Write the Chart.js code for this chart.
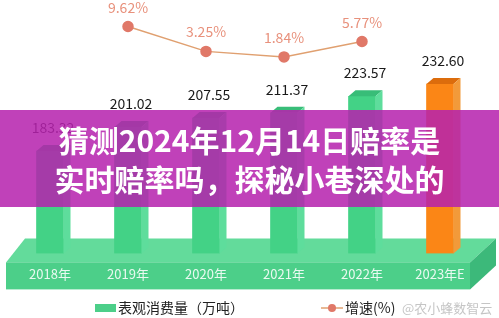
<!DOCTYPE html>
<html>
<head>
<meta charset="utf-8">
<script src="https://cdn.jsdelivr.net/npm/chart.js@4.4.1/dist/chart.umd.min.js"></script>
<style>
  html, body { margin: 0; padding: 0; background: #fff; }
  #wrap { position: relative; width: 499px; height: 318px; overflow: hidden; }
  #banner {
    position: absolute; left: 0; top: 110px; width: 499px; height: 97px;
    background: rgba(182, 34, 174, 0.86);
    color: #fff; font-family: "Noto Sans CJK SC", sans-serif; font-weight: bold;
    font-size: 30px; line-height: 39px; text-align: center;
    padding-top: 10px; box-sizing: border-box; letter-spacing: 0px;
  }
</style>
</head>
<body>
<div id="wrap">
  <canvas id="myChart" width="499" height="318"></canvas>
  <div id="banner">猜测2024年12月14日赔率是<br>实时赔率吗，探秘小巷深处的</div>
</div>
<script>
var years = ["2018年", "2019年", "2020年", "2021年", "2022年", "2023年E"];
var consumption = [183.32, 201.02, 207.55, 211.37, 223.57, 232.60];
var growth = [null, 9.62, 3.25, 1.84, 5.77, null];
var consumptionLabel = "表观消费量（万吨）";
var growthLabel = "增速(%)";
var watermark = "@农小蜂数智云";

var font = '"Noto Sans CJK SC", "Noto Sans", sans-serif';

// colours per bar: green, last one orange
var frontColors = consumption.map(function (v, i) { return i == consumption.length - 1 ? '#fb8616' : '#43d286'; });
var topColors = consumption.map(function (v, i) { return i == consumption.length - 1 ? '#dc6c0c' : '#38bd78'; });
var sideColors = consumption.map(function (v, i) { return i == consumption.length - 1 ? '#f29a3a' : '#5edd9c'; });

var depthX = 7, depthY = 6;
var yMin = 108;

const stagePlugin = {
    id: 'stage',
    beforeDraw(chart) {
        // the green platform under the bars, drawn before the axis labels
        const ctx = chart.ctx;
        const a = chart.chartArea;
        const l = a.left - 5, r = a.right - 9;
        const yTop = a.bottom + 9, yBot = a.bottom + 36, yBack = a.bottom - 15;
        const dx = 19;
        ctx.save();
        ctx.fillStyle = '#63db9b';
        ctx.beginPath();
        ctx.moveTo(l, yTop); ctx.lineTo(r, yTop); ctx.lineTo(r + dx + 7, yBack); ctx.lineTo(l + dx, yBack);
        ctx.closePath(); ctx.fill();
        ctx.fillStyle = '#4ccf89';
        ctx.fillRect(l, yTop, r - l, yBot - yTop);
        ctx.fillStyle = '#3cb97a';
        ctx.beginPath();
        ctx.moveTo(r, yTop); ctx.lineTo(r + dx + 7, yBack); ctx.lineTo(r + dx + 7, yBack + 27); ctx.lineTo(r, yBot);
        ctx.closePath(); ctx.fill();
        ctx.restore();
    },
    afterDatasetDraw(chart, args) {
        if (args.index !== 0) return;
        const ctx = chart.ctx;
        const meta = chart.getDatasetMeta(0);
        ctx.save();
        meta.data.forEach(function (bar, i) {
            const x0 = bar.x - bar.width / 2, x1 = bar.x + bar.width / 2;
            const yt = bar.y, yb = bar.base;
            ctx.fillStyle = topColors[i];
            ctx.beginPath();
            ctx.moveTo(x0, yt); ctx.lineTo(x1, yt); ctx.lineTo(x1 + depthX, yt - depthY); ctx.lineTo(x0 + depthX, yt - depthY);
            ctx.closePath(); ctx.fill();
            ctx.fillStyle = sideColors[i];
            ctx.beginPath();
            ctx.moveTo(x1, yt); ctx.lineTo(x1 + depthX, yt - depthY); ctx.lineTo(x1 + depthX, yb - depthY); ctx.lineTo(x1, yb);
            ctx.closePath(); ctx.fill();
        });
        ctx.restore();
    },
    afterDatasetsDraw(chart) {
        const ctx = chart.ctx;
        ctx.save();
        ctx.textAlign = 'center';
        ctx.textBaseline = 'alphabetic';
        ctx.font = '14px ' + font;
        ctx.fillStyle = '#1a1a1a';
        chart.getDatasetMeta(0).data.forEach(function (bar, i) {
            ctx.fillText(consumption[i].toFixed(2), bar.x + 3, bar.y - depthY - 12);
        });
        ctx.fillStyle = '#e8917c';
        chart.getDatasetMeta(1).data.forEach(function (pt, i) {
            if (growth[i] == null) return;
            ctx.fillText(growth[i].toFixed(2) + '%', pt.x, pt.y - 14);
        });
        ctx.restore();
    },
    afterDraw(chart) {
        const ctx = chart.ctx;
        const y = 308;
        ctx.save();
        ctx.font = '14px ' + font;
        ctx.textBaseline = 'middle';
        ctx.textAlign = 'left';
        ctx.fillStyle = '#4ccf89';
        ctx.fillRect(95, y - 4, 21, 8);
        ctx.fillStyle = '#222';
        ctx.fillText(consumptionLabel, 118, y);
        ctx.strokeStyle = '#e0a070';
        ctx.lineWidth = 1.5;
        ctx.beginPath(); ctx.moveTo(321, y); ctx.lineTo(343, y); ctx.stroke();
        ctx.fillStyle = '#e07868';
        ctx.beginPath(); ctx.arc(332, y, 4, 0, Math.PI * 2); ctx.fill();
        ctx.fillStyle = '#222';
        ctx.fillText(growthLabel, 345, y);
        ctx.fillStyle = 'rgba(150,150,150,0.55)';
        ctx.font = '13px ' + font;
        ctx.fillText(watermark, 402, y);
        ctx.restore();
    }
};

var ctx = document.getElementById('myChart').getContext('2d');
var chart = new Chart(ctx, {
    type: 'bar',
    data: {
        labels: years,
        datasets: [{
            type: 'bar',
            label: consumptionLabel,
            data: consumption,
            backgroundColor: frontColors,
            barThickness: 27,
            base: yMin,
            yAxisID: 'y',
            order: 2
        }, {
            type: 'line',
            label: growthLabel,
            data: growth,
            borderColor: '#e0a070',
            borderWidth: 1.5,
            pointBackgroundColor: '#e07868',
            pointBorderColor: '#e07868',
            pointRadius: 5,
            yAxisID: 'y1',
            order: 1,
            spanGaps: false
        }]
    },
    options: {
        responsive: false,
        animation: false,
        layout: { padding: { left: 11, right: 20, top: 10, bottom: 23 } },
        plugins: {
            legend: { display: false },
            tooltip: { enabled: false }
        },
        scales: {
            x: {
                grid: { display: false, drawTicks: false },
                border: { display: false },
                ticks: {
                    color: 'rgba(255,255,255,0.88)',
                    font: { family: font, size: 13 },
                    padding: 13
                }
            },
            y: {
                display: false,
                min: yMin,
                max: 287
            },
            y1: {
                display: false,
                min: -48.5,
                max: 13.85
            }
        }
    },
    plugins: [stagePlugin]
});
</script>
</body>
</html>
